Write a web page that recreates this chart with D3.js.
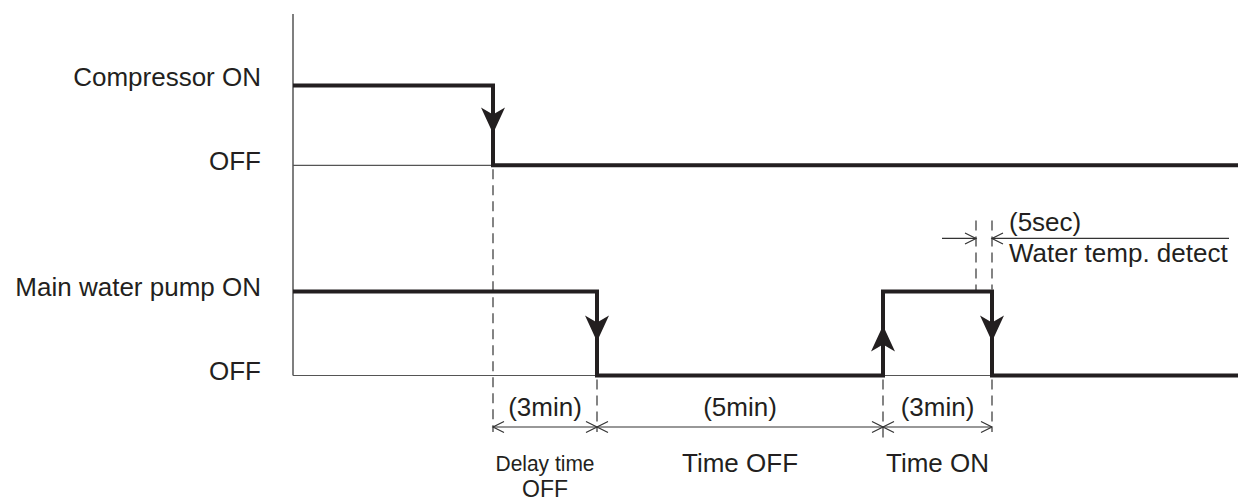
<!DOCTYPE html>
<html>
<head>
<meta charset="utf-8">
<script src="https://cdn.jsdelivr.net/npm/d3@7/dist/d3.min.js"></script>
<style>
  html, body { margin: 0; padding: 0; background: #fff; }
  svg { display: block; }
  text { font-family: "Liberation Sans", Arial, Helvetica, sans-serif; fill: #231f20; }
</style>
</head>
<body>
<svg id="chart" width="1238" height="500"></svg>
<script>
// ---------- data ----------
const signalNames = ["Compressor", "Main water pump"];
const onLabels = ["Compressor ON", "Main water pump ON"];
const offLabels = ["OFF", "OFF"];
const offLevels = [2.5, 0];
const onLevels = [3.45, 1];
const compressorTimes = [0, 200, 945];
const compressorStates = [1, 0, 0];
const pumpTimes = [0, 304, 590, 699, 945];
const pumpStates = [1, 0, 1, 0, 0];
const intervalStarts = [200, 304, 590];
const intervalEnds = [304, 590, 699];
const intervalLabels = ["(3min)", "(5min)", "(3min)"];
const phaseNames = [["Delay time", "OFF"], ["Time OFF"], ["Time ON"]];
const detectWindow = [683, 699];
const detectLabels = ["(5sec)", "Water temp. detect"];

// ---------- scales ----------
const svg = d3.select("#chart");
const x = d3.scaleLinear().domain([0, 945]).range([293, 1238]);
const y = d3.scaleLinear().domain([0, 4.3]).range([375.5, 14]);

const INK = "#231f20";
const THIN = "#555";

// axis
svg.append("line")
  .attr("x1", x(0)).attr("x2", x(0))
  .attr("y1", y(4.3)).attr("y2", y(0))
  .attr("stroke", THIN).attr("stroke-width", 1.5);

const signals = [
  { times: compressorTimes, states: compressorStates },
  { times: pumpTimes, states: pumpStates }
];

// thin OFF baselines
signals.forEach((s, i) => {
  svg.append("line")
    .attr("x1", x(0)).attr("x2", x(945))
    .attr("y1", y(offLevels[i])).attr("y2", y(offLevels[i]))
    .attr("stroke", THIN).attr("stroke-width", 1.2);
});

// dashed guide lines
const dash = "10,6";
function dashed(t, v1, y2px) {
  svg.append("line")
    .attr("x1", x(t)).attr("x2", x(t))
    .attr("y1", v1).attr("y2", y2px)
    .attr("stroke", "#333").attr("stroke-width", 1.2)
    .attr("stroke-dasharray", dash);
}
const dimY = y(0) + 51.5;
dashed(compressorTimes[1], y(offLevels[0]) + 4, dimY + 5);
dashed(pumpTimes[1], y(0) + 4, dimY + 5);
dashed(pumpTimes[2], y(0) + 4, dimY + 13);
dashed(pumpTimes[3], y(0) + 4, dimY + 5);
dashed(detectWindow[0], y(1) - 71, y(1));
dashed(detectWindow[1], y(1) - 71, y(1) - 2);

// thick step lines
signals.forEach((s, i) => {
  const pts = s.times.map((t, k) => [t, s.states[k] ? onLevels[i] : offLevels[i]]);
  const line = d3.line().x(d => x(d[0])).y(d => y(d[1])).curve(d3.curveStepAfter);
  svg.append("path")
    .attr("d", line(pts))
    .attr("fill", "none").attr("stroke", INK)
    .attr("stroke-width", 4).attr("stroke-linejoin", "miter");

  // arrowheads on transitions
  for (let k = 1; k < s.times.length; k++) {
    if (s.states[k] === s.states[k - 1]) continue;
    const dir = s.states[k] === 0 ? 1 : -1; // 1 = down
    const yMid = (y(onLevels[i]) + y(offLevels[i])) / 2;
    const cy = yMid - 5 * dir;
    svg.append("path")
      .attr("d", "M0,13 L12,-13 L0,-6 L-12,-13 Z")
      .attr("transform", `translate(${x(s.times[k])},${cy}) scale(1,${dir})`)
      .attr("fill", INK);
  }

  // row labels
  svg.append("text")
    .attr("x", x(0) - 32).attr("y", y(onLevels[i]) + (i === 0 ? 0.5 : 5))
    .attr("text-anchor", "end").attr("font-size", 26)
    .text(onLabels[i]);
  svg.append("text")
    .attr("x", x(0) - 32).attr("y", y(offLevels[i]) + 4.5)
    .attr("text-anchor", "end").attr("font-size", 26)
    .text(offLabels[i]);
});

// open arrowhead helper
function openArrow(px, py, dir) { // dir: 1 points right, -1 points left
  svg.append("path")
    .attr("d", `M${px - dir * 11},${py - 5.5} L${px},${py} L${px - dir * 11},${py + 5.5}`)
    .attr("fill", "none").attr("stroke", "#333").attr("stroke-width", 1.2);
}

// dimension lines
intervalStarts.forEach((t0, k) => {
  const t1 = intervalEnds[k];
  svg.append("line")
    .attr("x1", x(t0)).attr("x2", x(t1))
    .attr("y1", dimY).attr("y2", dimY)
    .attr("stroke", "#333").attr("stroke-width", 1.2);
  openArrow(x(t0), dimY, -1);
  openArrow(x(t1), dimY, 1);
  const cx = (x(t0) + x(t1)) / 2;
  svg.append("text")
    .attr("x", cx).attr("y", dimY - 11)
    .attr("text-anchor", "middle").attr("font-size", 26)
    .text(intervalLabels[k]);
  const names = phaseNames[k];
  if (names.length === 2) {
    svg.append("text")
      .attr("x", cx).attr("y", dimY + 44)
      .attr("text-anchor", "middle").attr("font-size", 22.5)
      .attr("textLength", 99).attr("lengthAdjust", "spacingAndGlyphs")
      .text(names[0]);
    svg.append("text")
      .attr("x", cx).attr("y", dimY + 69.5)
      .attr("text-anchor", "middle").attr("font-size", 23)
      .text(names[1]);
  } else {
    svg.append("text")
      .attr("x", cx).attr("y", dimY + 45)
      .attr("text-anchor", "middle").attr("font-size", 26)
      .text(names[0]);
  }
});

// 5sec detect window dimension
const dY = y(1) - 53;
svg.append("line")
  .attr("x1", x(detectWindow[0]) - 34).attr("x2", x(detectWindow[0]))
  .attr("y1", dY).attr("y2", dY)
  .attr("stroke", "#333").attr("stroke-width", 1.2);
openArrow(x(detectWindow[0]), dY, 1);
svg.append("line")
  .attr("x1", x(detectWindow[1])).attr("x2", x(detectWindow[1]) + 237)
  .attr("y1", dY).attr("y2", dY)
  .attr("stroke", "#333").attr("stroke-width", 1.2);
openArrow(x(detectWindow[1]), dY, -1);
svg.append("text")
  .attr("x", x(detectWindow[1]) + 17).attr("y", dY - 7)
  .attr("font-size", 26).text(detectLabels[0]);
svg.append("text")
  .attr("x", x(detectWindow[1]) + 17).attr("y", dY + 24)
  .attr("font-size", 26).text(detectLabels[1]);
</script>
</body>
</html>
